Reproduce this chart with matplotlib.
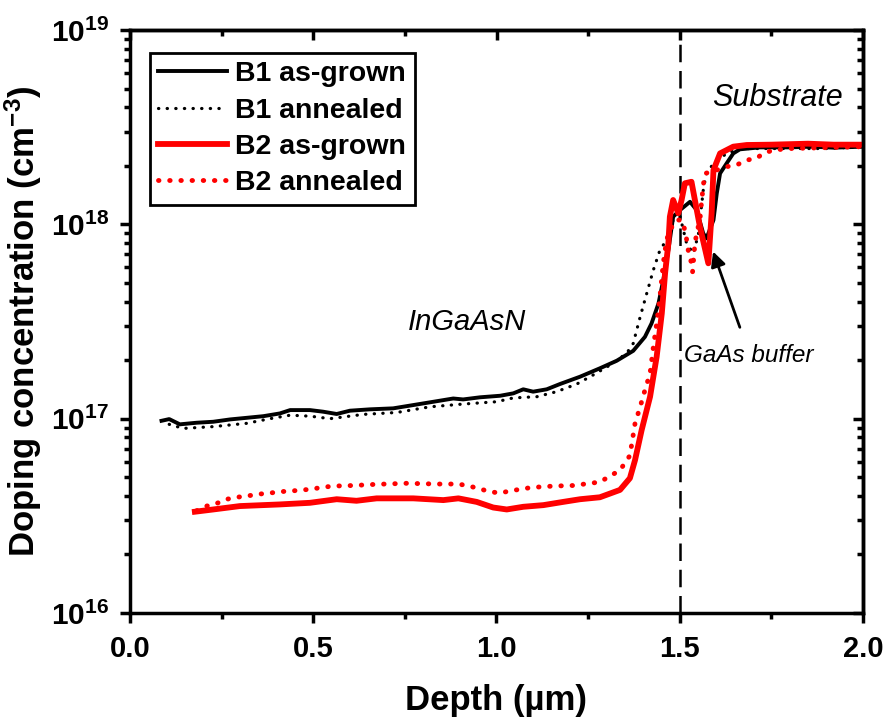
import matplotlib
matplotlib.use("Agg")
import matplotlib.pyplot as plt
import matplotlib.ticker as mticker
import numpy as np

plt.rcParams['font.family'] = ['Liberation Sans', 'DejaVu Sans']
plt.rcParams['mathtext.fontset'] = 'custom'
plt.rcParams['mathtext.rm'] = 'Liberation Sans:bold'
plt.rcParams['mathtext.bf'] = 'Liberation Sans:bold'
plt.rcParams['mathtext.it'] = 'Liberation Sans:italic:bold'
plt.rcParams['mathtext.default'] = 'bf'

# ---------------- data ----------------
b1_grown_x = [0.086, 0.107, 0.136, 0.182, 0.227, 0.273, 0.318, 0.364, 0.409, 0.437, 0.491, 0.527,
              0.564, 0.600, 0.655, 0.718, 0.773, 0.828, 0.882, 0.909, 0.955, 1.010, 1.046, 1.073,
              1.100, 1.137, 1.173, 1.228, 1.282, 1.328, 1.373, 1.405, 1.423, 1.442, 1.455, 1.469,
              1.482, 1.501, 1.528, 1.546, 1.564, 1.573, 1.592, 1.601, 1.610, 1.628, 1.646, 1.664,
              1.719, 1.800, 1.860, 1.920, 2.000]
b1_grown_y = [9.75e16, 9.95e16, 9.35e16, 9.53e16, 9.64e16, 9.91e16, 1.01e17, 1.03e17, 1.064e17, 1.107e17,
              1.107e17, 1.086e17, 1.057e17, 1.099e17, 1.117e17, 1.13e17, 1.175e17, 1.222e17, 1.27e17,
              1.256e17, 1.288e17, 1.312e17, 1.35e17, 1.416e17, 1.377e17, 1.416e17, 1.507e17, 1.644e17,
              1.816e17, 1.986e17, 2.234e17, 2.636e17, 3.09e17, 3.917e17, 5.16e17, 7.38e17, 1.094e18,
              1.186e18, 1.306e18, 1.186e18, 8.99e17, 8.47e17, 1.052e18, 1.442e18, 1.828e18, 2.06e18,
              2.317e18, 2.432e18, 2.489e18, 2.489e18, 2.51e18, 2.48e18, 2.51e18]

b1_ann_x = [0.107, 0.145, 0.227, 0.318, 0.382, 0.437, 0.491, 0.546, 0.637, 0.728, 0.819, 0.909,
            1.000, 1.046, 1.110, 1.164, 1.219, 1.264, 1.310, 1.355, 1.373, 1.392, 1.410, 1.428,
            1.446, 1.464, 1.482, 1.501, 1.519, 1.537, 1.551, 1.565, 1.573, 1.592, 1.628, 1.664,
            1.720, 1.800, 1.900, 2.000]
b1_ann_y = [9.35e16, 8.91e16, 9.1e16, 9.46e16, 1.0e17, 1.042e17, 1.03e17, 1.0e17, 1.052e17, 1.076e17,
            1.151e17, 1.189e17, 1.222e17, 1.279e17, 1.297e17, 1.377e17, 1.507e17, 1.679e17, 1.888e17,
            2.168e17, 2.438e17, 3.342e17, 4.416e17, 5.82e17, 7.38e17, 8.3e17, 1.052e18, 1.094e18,
            7.94e17, 7.08e17, 8.91e17, 1.549e18, 1.82e18, 2.06e18, 2.317e18, 2.455e18, 2.455e18,
            2.455e18, 2.455e18, 2.51e18]

b2_grown_x = [0.177, 0.227, 0.300, 0.409, 0.491, 0.564, 0.618, 0.673, 0.773, 0.855, 0.896, 0.946,
              0.991, 1.028, 1.073, 1.128, 1.182, 1.228, 1.282, 1.337, 1.364, 1.378, 1.396, 1.419,
              1.437, 1.451, 1.460, 1.469, 1.473, 1.482, 1.496, 1.505, 1.514, 1.532, 1.555, 1.578,
              1.587, 1.592, 1.610, 1.646, 1.683, 1.750, 1.850, 1.920, 2.000]
b2_grown_y = [3.32e16, 3.41e16, 3.55e16, 3.62e16, 3.69e16, 3.85e16, 3.78e16, 3.89e16, 3.89e16, 3.81e16,
              3.89e16, 3.73e16, 3.49e16, 3.41e16, 3.52e16, 3.59e16, 3.73e16, 3.85e16, 3.94e16, 4.3e16,
              4.94e16, 6.12e16, 8.73e16, 1.297e17, 2.084e17, 3.48e17, 5.6e17, 7.98e17, 1.094e18,
              1.334e18, 1.14e18, 1.334e18, 1.626e18, 1.656e18, 9.73e17, 6.3e17, 1.14e18, 1.901e18,
              2.317e18, 2.51e18, 2.56e18, 2.57e18, 2.6e18, 2.57e18, 2.57e18]

b2_ann_x = [0.182, 0.209, 0.236, 0.264, 0.291, 0.323, 0.350, 0.377, 0.409, 0.437, 0.467, 0.496,
            0.523, 0.555, 0.609, 0.668, 0.755, 0.837, 0.896, 0.926, 0.953, 0.982, 1.010, 1.039,
            1.069, 1.096, 1.125, 1.155, 1.210, 1.282, 1.337, 1.364, 1.378, 1.392, 1.405, 1.419,
            1.428, 1.437, 1.446, 1.455, 1.464, 1.473, 1.491, 1.505, 1.514, 1.519, 1.523, 1.532,
            1.535, 1.541, 1.546, 1.555, 1.560, 1.565, 1.569, 1.585, 1.628, 1.655, 1.683, 1.710,
            1.728, 1.755, 1.800, 1.900, 2.000]
b2_ann_y = [3.36e16, 3.55e16, 3.66e16, 3.85e16, 3.94e16, 4.01e16, 4.09e16, 4.13e16, 4.21e16, 4.24e16,
            4.29e16, 4.34e16, 4.43e16, 4.5e16, 4.53e16, 4.59e16, 4.65e16, 4.61e16, 4.61e16, 4.5e16,
            4.36e16, 4.21e16, 4.14e16, 4.26e16, 4.34e16, 4.43e16, 4.46e16, 4.5e16, 4.53e16, 4.72e16,
            5.43e16, 6.46e16, 9.46e16, 1.151e17, 1.403e17, 1.71e17, 2.344e17, 3.09e17, 4.24e17,
            6.3e17, 8.3e17, 9.35e17, 1.052e18, 1.052e18, 9.35e17, 8.3e17, 7.38e17, 6.3e17, 5.7e17,
            7.82e17, 8.99e17, 1.052e18, 1.334e18, 1.626e18, 1.828e18, 1.86e18, 1.98e18, 2.02e18,
            2.14e18, 2.19e18, 2.317e18, 2.41e18, 2.455e18, 2.48e18, 2.51e18]

series_labels = ["B1 as-grown", "B1 annealed", "B2 as-grown", "B2 annealed"]
interface_depth = 1.5
x_ticks = [0.0, 0.5, 1.0, 1.5, 2.0]
y_ticks = [1e16, 1e17, 1e18, 1e19]

# ---------------- figure ----------------
fig = plt.figure(figsize=(8.83, 7.2), dpi=100)
ax = fig.add_axes([130/883, 1-613/720, 733/883, 583/720])

ax.plot(b1_grown_x, b1_grown_y, color='black', lw=2.8, label=series_labels[0])
ax.plot(b1_ann_x, b1_ann_y, color='black', lw=2.3, linestyle=(0, (0.1, 2.6)),
        dash_capstyle='round', label=series_labels[1])
ax.plot(b2_grown_x, b2_grown_y, color='red', lw=4.2, label=series_labels[2])
ax.plot(b2_ann_x, b2_ann_y, color='red', lw=3.5, linestyle=(0, (0.1, 2.2)),
        dash_capstyle='round', label=series_labels[3])

ax.axvline(interface_depth, color='black', lw=1.8, linestyle=(0, (7, 3.5)), zorder=0)

ax.set_yscale('log')
ax.set_xlim(0, 2.0)
ax.set_ylim(1e16, 1e19)
ax.set_xticks(x_ticks)
ax.xaxis.set_major_formatter(mticker.FormatStrFormatter('%.1f'))
ax.xaxis.set_minor_locator(mticker.MultipleLocator(0.25))
ax.set_yticks(y_ticks)
ax.yaxis.set_major_formatter(mticker.FuncFormatter(lambda v, p: r'$10^{%d}$' % round(np.log10(v))))
ax.yaxis.set_minor_locator(mticker.LogLocator(base=10, subs=np.arange(2, 10)))
ax.yaxis.set_minor_formatter(mticker.NullFormatter())

SW = 2.5
for s in ax.spines.values():
    s.set_linewidth(SW)

ax.tick_params(which='both', direction='out', width=SW, top=False, right=False)
ax.tick_params(axis='x', which='major', length=7, pad=9, labelsize=21)
ax.tick_params(axis='y', which='major', length=7, pad=8, labelsize=21.5)
ax.tick_params(which='minor', length=4)
for lab in ax.get_xticklabels() + ax.get_yticklabels():
    lab.set_fontweight('bold')

# mirrored inward ticks on top/right
axt = ax.secondary_xaxis('top')
axt.set_xticks(x_ticks)
axt.xaxis.set_minor_locator(mticker.MultipleLocator(0.25))
axt.tick_params(which='both', direction='in', width=SW, labeltop=False)
axt.tick_params(which='major', length=7)
axt.tick_params(which='minor', length=4)
axt.spines['top'].set_linewidth(SW)
axr = ax.secondary_yaxis('right')
axr.set_yscale('log')
axr.set_yticks(y_ticks)
axr.yaxis.set_minor_locator(mticker.LogLocator(base=10, subs=np.arange(2, 10)))
axr.yaxis.set_minor_formatter(mticker.NullFormatter())
axr.tick_params(which='both', direction='in', width=SW, labelright=False)
axr.tick_params(which='major', length=7)
axr.tick_params(which='minor', length=4)
axr.spines['right'].set_linewidth(SW)

ax.set_xlabel('Depth (µm)', fontsize=25, fontweight='bold', labelpad=15)
ax.set_ylabel(r'Doping concentration (cm$^{\mathbf{-3}}$)', fontsize=25, fontweight='bold', labelpad=5)

leg = ax.legend(loc='upper left', bbox_to_anchor=(0.027, 0.961), borderaxespad=0,
                fancybox=False, edgecolor='black', framealpha=1,
                prop={'weight': 'bold', 'size': 20.5}, handlelength=2.4, labelspacing=0.36,
                handletextpad=0.3, borderpad=0.3)
leg.get_frame().set_linewidth(2.0)

ax.text(1.768, 10**18.65, 'Substrate', fontsize=22, style='italic', ha='center', va='center')
ax.text(0.92, 10**17.497, 'InGaAsN', fontsize=21, style='italic', ha='center', va='center')
ax.text(1.688, 10**17.327, 'GaAs buffer', fontsize=17.5, style='italic', ha='center', va='center')
ax.annotate('', xy=(1.591, 10**17.86), xytext=(1.664, 10**17.47),
            arrowprops=dict(arrowstyle='-|>', color='black', lw=2, mutation_scale=22,
                            shrinkA=0, shrinkB=0))

fig.savefig('out.png', dpi=100)
